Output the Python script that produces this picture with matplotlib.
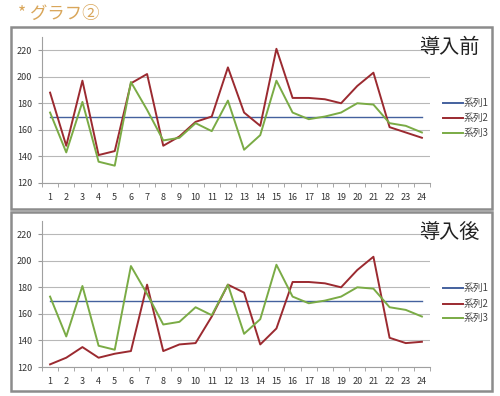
import matplotlib
matplotlib.use('Agg')
import matplotlib.pyplot as plt
from matplotlib.patches import Rectangle

plt.rcParams['font.family'] = ['Noto Sans CJK JP', 'DejaVu Sans']

## data
days = list(range(1, 25))
target = [170] * 24

before_s2 = [188, 148, 197, 141, 144, 195, 202, 148, 155, 166, 170, 207,
             173, 163, 221, 184, 184, 183, 180, 193, 203, 162, 158, 154]
before_s3 = [173, 143, 181, 136, 133, 196, 175, 152, 154, 165, 159, 182,
             145, 156, 197, 173, 168, 170, 173, 180, 179, 165, 163, 158]

after_s2 = [122, 127, 135, 127, 130, 132, 182, 132, 137, 138, 158, 182,
            176, 137, 149, 184, 184, 183, 180, 193, 203, 142, 138, 139]
after_s3 = before_s3

series_names = ['系列1', '系列2', '系列3']
panel_titles = ['導入前', '導入後']

blue = '#44619e'
red = '#9b2a30'
green = '#7aab45'

fig = plt.figure(figsize=(5, 3.96), dpi=100)

# panel frames
for y0, y1 in [(27, 209), (212, 391)]:
    fig.patches.append(Rectangle((11 / 500, 1 - y1 / 396), 481 / 500, (y1 - y0) / 396,
                                 transform=fig.transFigure, fill=False,
                                 edgecolor='#8c8c8c', linewidth=1.8))

fig.text(0.036, 0.965, '* グラフ②', color='#d9a65a', fontsize=12.5, va='center')

panels = [
    (0.538, before_s2, before_s3, 0.881, [0.74, 0.702, 0.664]),
    (0.0732, after_s2, after_s3, 0.414, [0.273, 0.233, 0.197]),
]

for i, (bottom, s2, s3, ty, ly) in enumerate(panels):
    ax = fig.add_axes([0.084, bottom, 0.776, 0.369])
    l1, = ax.plot(days, target, color=blue, lw=1.0)
    l2, = ax.plot(days, s2, color=red, lw=1.4)
    l3, = ax.plot(days, s3, color=green, lw=1.4)
    ax.set_xlim(0.5, 24.5)
    ax.set_ylim(120, 230)
    ax.set_yticks(range(120, 221, 20))
    ax.set_xticks(days)
    ax.set_xticks([d + 0.5 for d in range(0, 25)], minor=True)
    ax.tick_params(axis='x', which='major', length=0, pad=7, labelsize=6.5, colors='#333333')
    ax.tick_params(axis='x', which='minor', length=3, direction='out', color='#999999')
    ax.tick_params(axis='y', length=3, direction='out', color='#999999', labelsize=6.5,
                   labelcolor='#333333', pad=4)
    ax.grid(axis='y', color='#b8b8b8', lw=0.8)
    ax.set_axisbelow(True)
    for sp in ['top', 'right']:
        ax.spines[sp].set_visible(False)
    for sp in ['left', 'bottom']:
        ax.spines[sp].set_color('#a0a0a0')
        ax.spines[sp].set_linewidth(0.8)

    fig.text(0.898, ty, panel_titles[i], fontsize=14.5, ha='center', va='center', color='#222222')
    for line, name, yy in zip([l1, l2, l3], series_names, ly):
        fig.lines.append(plt.Line2D([0.885, 0.925], [yy, yy], transform=fig.transFigure,
                                    color=line.get_color(), lw=1.4))
        fig.text(0.928, yy, name, fontsize=7, va='center', color='#444444')

fig.savefig('out.png', dpi=100)
